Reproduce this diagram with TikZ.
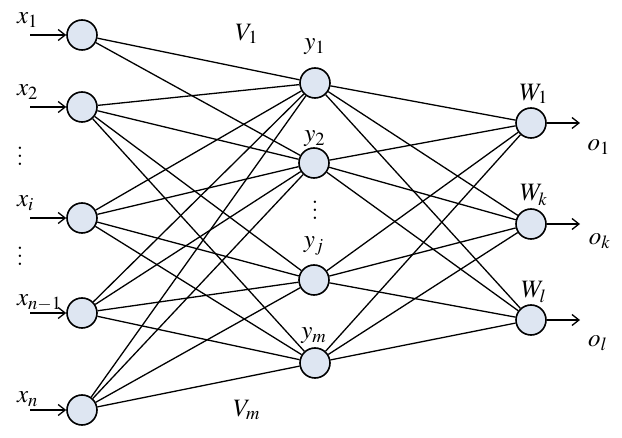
\documentclass[tikz,border=0pt]{standalone}
\usepackage{amsmath}
\usepackage{mathptmx}
\usepackage{tikz}
\usetikzlibrary{arrows.meta}
\definecolor{nodecolor}{RGB}{222,230,242}

\begin{document}
\begin{tikzpicture}[x=0.5pt, y=-0.5pt, font=\fontsize{12.5}{15}\selectfont,
		neuron/.style={circle, draw, line width=0.8pt, fill=nodecolor, minimum size=15pt, inner sep=0pt},
		link/.style={line width=0.65pt},
		io/.style={line width=0.65pt, -{Straight Barb[length=3.5pt, width=5.5pt]}}]
	\useasboundingbox (0,0) rectangle (622,438);
	% input layer
	\node[neuron] (x1) at (82,35) {};
	\node[neuron] (x2) at (82,107) {};
	\node[neuron] (xi) at (82,218) {};
	\node[neuron] (xn1) at (82,313) {};
	\node[neuron] (xn) at (82,410) {};
	% hidden layer
	\node[neuron] (y1) at (315,83) {};
	\node[neuron] (y2) at (314,163) {};
	\node[neuron] (yj) at (314,280) {};
	\node[neuron] (ym) at (315,363) {};
	% output layer
	\node[neuron] (w1) at (531,123) {};
	\node[neuron] (wk) at (531,224) {};
	\node[neuron] (wl) at (531,320) {};

	\draw[link] (x1) -- (y1);
	\draw[link] (x1) -- (y2);
	\foreach \a in {x2,xi,xn1,xn}
		\foreach \b in {y1,y2,yj,ym}
			\draw[link] (\a) -- (\b);
	\foreach \a in {y1,y2,yj,ym}
		\foreach \b in {w1,wk,wl}
			\draw[link] (\a) -- (\b);

	\foreach \n/\y in {x1/35, x2/107, xi/218, xn1/313, xn/410} {
		\coordinate (in-\n) at (30,\y);
		\draw[io] (in-\n) -- (\n);
	}
	\foreach \n/\y in {w1/123, wk/224, wl/320} {
		\coordinate (out-\n) at (580,\y);
		\draw[io] (\n) -- (out-\n);
	}

	\node[anchor=west] (lx1) at (10,20) {$x_1$};
	\node[anchor=west] (lx2) at (10,92) {$x_2$};
	\node[anchor=west] (lxi) at (10,203) {$x_i$};
	\node[anchor=west] (lxn1) at (10,303) {$x_{n-1}$};
	\node[anchor=west] (lxn) at (10,399) {$x_n$};
	\node (dx1) at (20,150) {$\vdots$};
	\node (dx2) at (20,250) {$\vdots$};

	\node (ly1) at (315,47) {$y_1$};
	\node (ly2) at (315,139) {$y_2$};
	\node (ly3) at (314,246) {$y_j$};
	\node (ly4) at (314,336) {$y_m$};
	\node (dy) at (315,204) {$\vdots$};

	\node (lv1) at (247,34) {$V_1$};
	\node (lvm) at (247,410) {$V_m$};

	\node (lw1) at (534,94) {$W_1$};
	\node (lwk) at (534,195) {$W_k$};
	\node (lwl) at (534,292) {$W_l$};
	\node (lo1) at (599,147) {$o_1$};
	\node (lok) at (600,241) {$o_k$};
	\node (lol) at (598,343) {$o_l$};
\end{tikzpicture}
\end{document}
